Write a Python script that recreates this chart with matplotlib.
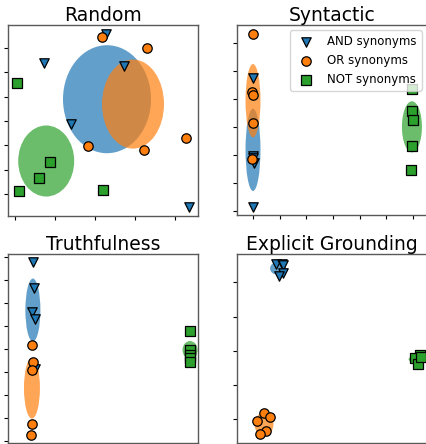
import numpy as np
import matplotlib.pyplot as plt
from matplotlib.patches import Ellipse

# panel titles
titles = ["Random", "Syntactic", "Truthfulness", "Explicit Grounding"]
labels = ["AND synonyms", "OR synonyms", "NOT synonyms"]

# Random
rand_and_x = [2.28, 0.72, 2.72, 1.40, 4.35]
rand_and_y = [6.58, 5.38, 5.26, 2.88, -0.53]
rand_or_x = [2.17, 3.30, 1.82, 3.22, 4.28]
rand_or_y = [6.45, 6.00, 1.97, 1.81, 2.30]
rand_not_x = [0.05, 0.88, 0.60, 0.10, 2.20]
rand_not_y = [4.56, 1.32, 0.66, 0.12, 0.16]
# ellipses: (cx, cy, width, height)
rand_ell = [(2.30, 3.90, 2.20, 4.44), (2.95, 3.70, 1.55, 3.66), (0.78, 1.36, 1.40, 2.92)]

# Syntactic
syn_and_x = [0.0, 0.0, 0.0, 0.04, 0.0]
syn_and_y = [4.75, 1.96, 1.89, 1.71, 0.14]
syn_or_x = [0.0, -0.04, 0.0, 0.0, -0.04]
syn_or_y = [6.29, 4.25, 4.14, 3.14, 1.86]
syn_not_x = [5.96, 5.96, 6.0, 5.96, 5.92]
syn_not_y = [4.36, 3.57, 3.25, 2.32, 1.46]
syn_ell = [(0.0, 2.18, 0.56, 2.93), (0.0, 3.93, 0.56, 2.61), (5.96, 3.00, 0.75, 1.82)]

# Truthfulness
tru_and_x = [0.89, 0.95, 0.84, 1.0, 1.0]
tru_and_y = [7.78, 6.65, 5.61, 5.30, 3.13]
tru_or_x = [0.84, 0.89, 0.84, 0.84, 0.79]
tru_or_y = [4.17, 3.43, 3.09, 0.74, 0.26]
tru_not_x = [9.16, 9.16, 9.16, 9.16, 9.16]
tru_not_y = [4.78, 3.96, 3.74, 3.61, 3.43]
tru_ell = [(0.89, 5.70, 0.79, 2.74), (0.84, 2.30, 0.84, 2.65), (9.16, 3.96, 0.79, 0.78)]

# Explicit Grounding
exp_and_x = [1.63, 1.95, 2.0, 2.0, 1.79]
exp_and_y = [4.55, 4.55, 4.50, 4.26, 4.18]
exp_or_x = [1.0, 1.32, 0.63, 1.11, 0.79]
exp_or_y = [0.18, 0.06, -0.06, -0.35, -0.44]
exp_not_x = [9.21, 8.95, 9.11, 9.26]
exp_not_y = [1.87, 1.78, 1.61, 1.81]
exp_ell = [(1.74, 4.41, 0.84, 0.38), (1.0, -0.15, 1.0, 0.67), (9.11, 1.75, 1.0, 0.23)]

panels = [
    (rand_and_x, rand_and_y, rand_or_x, rand_or_y, rand_not_x, rand_not_y, rand_ell),
    (syn_and_x, syn_and_y, syn_or_x, syn_or_y, syn_not_x, syn_not_y, syn_ell),
    (tru_and_x, tru_and_y, tru_or_x, tru_or_y, tru_not_x, tru_not_y, tru_ell),
    (exp_and_x, exp_and_y, exp_or_x, exp_or_y, exp_not_x, exp_not_y, exp_ell),
]

# axes limits and ticks per panel
xlims = [(-0.175, 4.575), (-0.6, 6.525), (-0.42, 9.58), (-0.42, 9.58)]
ylims = [(-0.90, 6.95), (-0.14, 6.625), (-0.09, 8.14), (-0.70, 4.83)]
xticks = [range(0, 5), range(0, 7), range(0, 10, 2), range(0, 10, 2)]
yticks = [range(0, 7), range(0, 7), range(0, 9), range(0, 5)]

colors = ["tab:blue", "tab:orange", "tab:green"]
markers = ["v", "o", "s"]

W, H = 426, 444
fig = plt.figure(figsize=(W / 100, H / 100), dpi=100)

# pixel boxes (left, top, right, bottom) -- the right column runs off the canvas
boxes = [(8, 25, 198, 216), (237, 25, 427, 215), (8, 254, 198, 443), (237, 254, 427, 443)]

for i, (box, data) in enumerate(zip(boxes, panels)):
    l, t, r, b = box
    ax = fig.add_axes([l / W, 1 - b / H, (r - l) / W, (b - t) / H])
    xs = [data[0], data[2], data[4]]
    ys = [data[1], data[3], data[5]]
    for (cx, cy, w, h), c in zip(data[6], colors):
        ax.add_patch(Ellipse((cx, cy), w, h, facecolor=c, alpha=0.7,
                             edgecolor='none', zorder=1))
    for x, y, c, m, lab in zip(xs, ys, colors, markers, labels):
        ax.scatter(x, y, c=c, marker=m, s=46, edgecolors='black',
                   linewidths=0.9, zorder=2, label=lab)
    ax.set_xlim(*xlims[i])
    ax.set_ylim(*ylims[i])
    ax.set_xticks(list(xticks[i]))
    ax.set_yticks(list(yticks[i]))
    ax.set_xticklabels([])
    ax.set_yticklabels([])
    ax.tick_params(length=3, width=0.8, color='black')
    for sp in ax.spines.values():
        sp.set_color('0.35')
        sp.set_linewidth(1.0)
    ax.set_title(titles[i], fontsize=13.5, pad=3)
    if i == 1:
        ax.legend(loc='upper right', fontsize=8.5, borderaxespad=0.45)

fig.savefig("out.png", dpi=100)
